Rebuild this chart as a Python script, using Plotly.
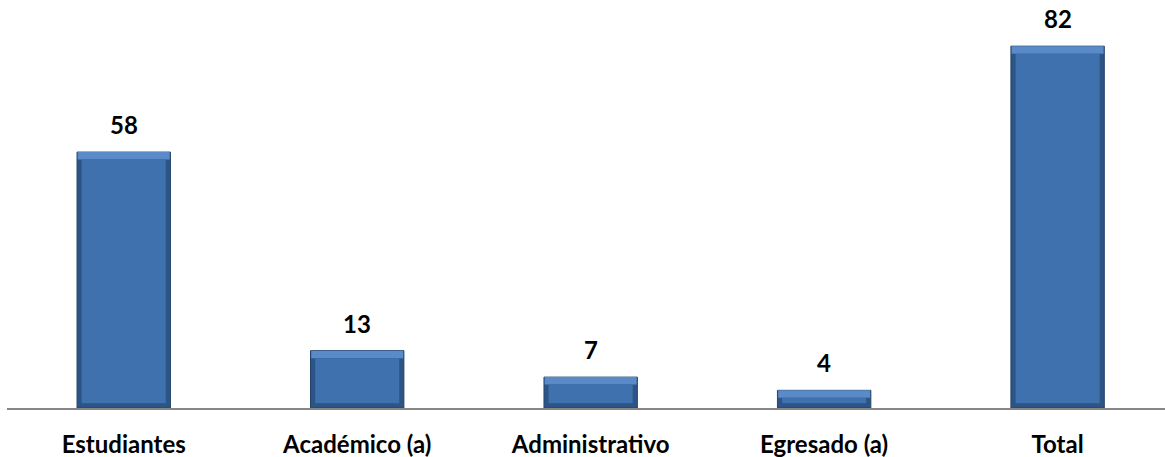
import plotly.graph_objects as go

categories = ["Estudiantes", "Académico (a)", "Administrativo", "Egresado (a)", "Total"]
values = [58, 13, 7, 4, 82]

FONT = "Lato, 'Open Sans', sans-serif"
BAR_W = 0.40
INNER_W = 0.36
TOP_BEVEL = 1.7     # bevel thickness in data units
BOTTOM_BEVEL = 1.1

fig = go.Figure()

# dark outer shell of each bevelled bar
fig.add_trace(go.Bar(
    x=categories, y=values, width=BAR_W,
    marker=dict(color="#2C5586", line=dict(color="#22446C", width=1)),
    hoverinfo="skip", showlegend=False,
))

# lighter top bevel
fig.add_trace(go.Bar(
    x=categories, y=[TOP_BEVEL] * len(values), base=[v - TOP_BEVEL for v in values],
    width=BAR_W * 0.985,
    marker=dict(color="#5A8AC7", line=dict(width=0)),
    hoverinfo="skip", showlegend=False,
))

# main face
fig.add_trace(go.Bar(
    x=categories, y=[v - TOP_BEVEL - BOTTOM_BEVEL for v in values],
    base=[BOTTOM_BEVEL] * len(values),
    width=INNER_W,
    marker=dict(color="#3F71AF", line=dict(width=0)),
    hovertemplate="%{x}: %{customdata}<extra></extra>",
    customdata=values, showlegend=False,
))

# value labels above the bars
for cat, v in zip(categories, values):
    fig.add_annotation(
        x=cat, y=v, text=f"<b>{v}</b>", showarrow=False,
        yanchor="bottom", yshift=11,
        font=dict(family=FONT, size=24, color="#000000"),
    )

fig.update_layout(
    width=1165, height=457,
    margin=dict(l=7, r=0, t=10, b=49),
    paper_bgcolor="white", plot_bgcolor="white",
    barmode="overlay",
    font=dict(family=FONT, size=24, color="#000000"),
)

fig.update_xaxes(
    type="category", range=[-0.5, 4.46],
    showline=True, linecolor="#878787", linewidth=2,
    showgrid=False, ticks="", ticklabelstandoff=14,
    tickfont=dict(family=FONT, size=24, color="#000000", weight="bold"),
    fixedrange=True,
)
fig.update_yaxes(
    range=[0, 90.2], visible=False, showgrid=False, zeroline=False,
    fixedrange=True,
)

fig.write_html("out.html")
